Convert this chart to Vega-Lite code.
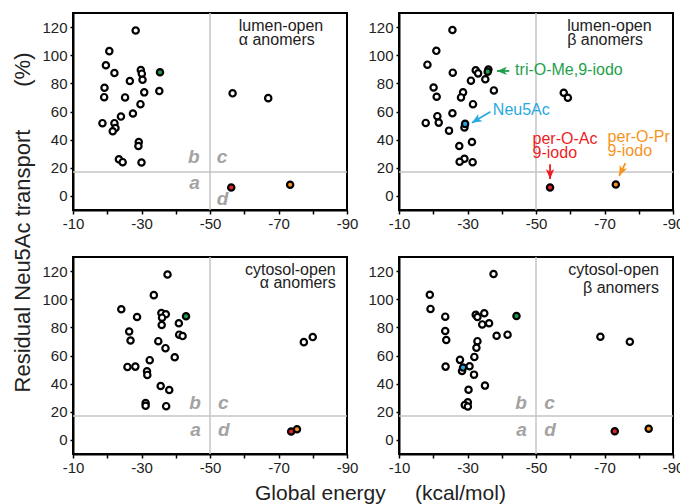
{
  "$schema": "https://vega.github.io/schema/vega-lite/v6.json",
  "padding": {"left": 10, "top": 11, "right": 0, "bottom": 0},
  "datasets": {
    "pts": [
      {"panel":1,"energy":-28.3,"transport":117.6,"compound":"other"},
      {"panel":1,"energy":-20.6,"transport":102.9,"compound":"other"},
      {"panel":1,"energy":-19.6,"transport":92.9,"compound":"other"},
      {"panel":1,"energy":-22.1,"transport":87.4,"compound":"other"},
      {"panel":1,"energy":-29.8,"transport":89.5,"compound":"other"},
      {"panel":1,"energy":-30.1,"transport":86.9,"compound":"other"},
      {"panel":1,"energy":-30.3,"transport":82.6,"compound":"other"},
      {"panel":1,"energy":-26.6,"transport":81.7,"compound":"other"},
      {"panel":1,"energy":-19.2,"transport":76.9,"compound":"other"},
      {"panel":1,"energy":-19.1,"transport":70.2,"compound":"other"},
      {"panel":1,"energy":-25.2,"transport":70.0,"compound":"other"},
      {"panel":1,"energy":-30.8,"transport":73.6,"compound":"other"},
      {"panel":1,"energy":-35.2,"transport":74.5,"compound":"other"},
      {"panel":1,"energy":-29.7,"transport":65.2,"compound":"other"},
      {"panel":1,"energy":-27.5,"transport":58.6,"compound":"other"},
      {"panel":1,"energy":-24.0,"transport":56.4,"compound":"other"},
      {"panel":1,"energy":-18.6,"transport":51.7,"compound":"other"},
      {"panel":1,"energy":-22.1,"transport":51.7,"compound":"other"},
      {"panel":1,"energy":-22.4,"transport":48.3,"compound":"other"},
      {"panel":1,"energy":-21.6,"transport":46.0,"compound":"other"},
      {"panel":1,"energy":-29.2,"transport":38.3,"compound":"other"},
      {"panel":1,"energy":-29.1,"transport":35.5,"compound":"other"},
      {"panel":1,"energy":-23.4,"transport":26.0,"compound":"other"},
      {"panel":1,"energy":-24.5,"transport":24.0,"compound":"other"},
      {"panel":1,"energy":-30.0,"transport":23.8,"compound":"other"},
      {"panel":1,"energy":-56.6,"transport":72.9,"compound":"other"},
      {"panel":1,"energy":-67.0,"transport":69.5,"compound":"other"},
      {"panel":1,"energy":-35.4,"transport":87.9,"compound":"tri-O-Me,9-iodo"},
      {"panel":1,"energy":-56.2,"transport":6.0,"compound":"per-O-Ac 9-iodo"},
      {"panel":1,"energy":-73.4,"transport":7.9,"compound":"per-O-Pr 9-iodo"},

      {"panel":2,"energy":-25.6,"transport":117.9,"compound":"other"},
      {"panel":2,"energy":-20.9,"transport":103.1,"compound":"other"},
      {"panel":2,"energy":-18.3,"transport":93.3,"compound":"other"},
      {"panel":2,"energy":-25.7,"transport":87.6,"compound":"other"},
      {"panel":2,"energy":-32.4,"transport":89.3,"compound":"other"},
      {"panel":2,"energy":-33.1,"transport":87.1,"compound":"other"},
      {"panel":2,"energy":-36.1,"transport":89.8,"compound":"other"},
      {"panel":2,"energy":-35.2,"transport":82.9,"compound":"other"},
      {"panel":2,"energy":-31.0,"transport":81.9,"compound":"other"},
      {"panel":2,"energy":-37.7,"transport":75.0,"compound":"other"},
      {"panel":2,"energy":-20.1,"transport":77.1,"compound":"other"},
      {"panel":2,"energy":-21.0,"transport":70.5,"compound":"other"},
      {"panel":2,"energy":-28.7,"transport":73.6,"compound":"other"},
      {"panel":2,"energy":-28.1,"transport":70.0,"compound":"other"},
      {"panel":2,"energy":-31.6,"transport":65.2,"compound":"other"},
      {"panel":2,"energy":-25.6,"transport":58.8,"compound":"other"},
      {"panel":2,"energy":-21.2,"transport":56.7,"compound":"other"},
      {"panel":2,"energy":-17.8,"transport":51.9,"compound":"other"},
      {"panel":2,"energy":-21.6,"transport":52.1,"compound":"other"},
      {"panel":2,"energy":-29.1,"transport":48.6,"compound":"other"},
      {"panel":2,"energy":-24.6,"transport":46.4,"compound":"other"},
      {"panel":2,"energy":-27.6,"transport":35.5,"compound":"other"},
      {"panel":2,"energy":-31.3,"transport":38.3,"compound":"other"},
      {"panel":2,"energy":-29.1,"transport":26.4,"compound":"other"},
      {"panel":2,"energy":-27.7,"transport":24.3,"compound":"other"},
      {"panel":2,"energy":-31.5,"transport":24.0,"compound":"other"},
      {"panel":2,"energy":-58.1,"transport":73.3,"compound":"other"},
      {"panel":2,"energy":-59.3,"transport":69.8,"compound":"other"},
      {"panel":2,"energy":-35.9,"transport":88.3,"compound":"tri-O-Me,9-iodo"},
      {"panel":2,"energy":-29.3,"transport":51.2,"compound":"Neu5Ac"},
      {"panel":2,"energy":-54.1,"transport":6.0,"compound":"per-O-Ac 9-iodo"},
      {"panel":2,"energy":-73.3,"transport":8.1,"compound":"per-O-Pr 9-iodo"},

      {"panel":3,"energy":-37.6,"transport":117.6,"compound":"other"},
      {"panel":3,"energy":-33.6,"transport":102.9,"compound":"other"},
      {"panel":3,"energy":-24.1,"transport":92.9,"compound":"other"},
      {"panel":3,"energy":-28.7,"transport":87.4,"compound":"other"},
      {"panel":3,"energy":-35.8,"transport":90.2,"compound":"other"},
      {"panel":3,"energy":-37.1,"transport":89.3,"compound":"other"},
      {"panel":3,"energy":-36.0,"transport":86.9,"compound":"other"},
      {"panel":3,"energy":-40.9,"transport":82.9,"compound":"other"},
      {"panel":3,"energy":-35.9,"transport":81.7,"compound":"other"},
      {"panel":3,"energy":-26.4,"transport":77.1,"compound":"other"},
      {"panel":3,"energy":-26.8,"transport":70.7,"compound":"other"},
      {"panel":3,"energy":-41.0,"transport":74.8,"compound":"other"},
      {"panel":3,"energy":-42.0,"transport":73.8,"compound":"other"},
      {"panel":3,"energy":-34.9,"transport":70.2,"compound":"other"},
      {"panel":3,"energy":-37.0,"transport":65.2,"compound":"other"},
      {"panel":3,"energy":-39.7,"transport":58.8,"compound":"other"},
      {"panel":3,"energy":-32.4,"transport":56.7,"compound":"other"},
      {"panel":3,"energy":-25.9,"transport":51.9,"compound":"other"},
      {"panel":3,"energy":-28.2,"transport":52.1,"compound":"other"},
      {"panel":3,"energy":-31.6,"transport":48.8,"compound":"other"},
      {"panel":3,"energy":-31.7,"transport":46.2,"compound":"other"},
      {"panel":3,"energy":-35.6,"transport":38.3,"compound":"other"},
      {"panel":3,"energy":-38.1,"transport":35.5,"compound":"other"},
      {"panel":3,"energy":-31.2,"transport":26.2,"compound":"other"},
      {"panel":3,"energy":-31.2,"transport":24.3,"compound":"other"},
      {"panel":3,"energy":-37.2,"transport":24.0,"compound":"other"},
      {"panel":3,"energy":-77.4,"transport":69.5,"compound":"other"},
      {"panel":3,"energy":-80.0,"transport":73.1,"compound":"other"},
      {"panel":3,"energy":-43.0,"transport":87.9,"compound":"tri-O-Me,9-iodo"},
      {"panel":3,"energy":-73.7,"transport":6.0,"compound":"per-O-Ac 9-iodo"},
      {"panel":3,"energy":-75.4,"transport":7.6,"compound":"per-O-Pr 9-iodo"},

      {"panel":4,"energy":-37.6,"transport":117.9,"compound":"other"},
      {"panel":4,"energy":-19.0,"transport":103.1,"compound":"other"},
      {"panel":4,"energy":-19.2,"transport":93.1,"compound":"other"},
      {"panel":4,"energy":-23.5,"transport":87.6,"compound":"other"},
      {"panel":4,"energy":-23.5,"transport":77.4,"compound":"other"},
      {"panel":4,"energy":-23.8,"transport":71.0,"compound":"other"},
      {"panel":4,"energy":-23.6,"transport":52.1,"compound":"other"},
      {"panel":4,"energy":-32.4,"transport":89.0,"compound":"other"},
      {"panel":4,"energy":-32.9,"transport":87.4,"compound":"other"},
      {"panel":4,"energy":-34.9,"transport":90.0,"compound":"other"},
      {"panel":4,"energy":-34.3,"transport":82.1,"compound":"other"},
      {"panel":4,"energy":-36.3,"transport":82.9,"compound":"other"},
      {"panel":4,"energy":-38.5,"transport":74.0,"compound":"other"},
      {"panel":4,"energy":-41.7,"transport":74.8,"compound":"other"},
      {"panel":4,"energy":-32.9,"transport":70.2,"compound":"other"},
      {"panel":4,"energy":-32.6,"transport":65.5,"compound":"other"},
      {"panel":4,"energy":-32.0,"transport":59.0,"compound":"other"},
      {"panel":4,"energy":-27.8,"transport":56.9,"compound":"other"},
      {"panel":4,"energy":-30.6,"transport":52.4,"compound":"other"},
      {"panel":4,"energy":-28.4,"transport":49.0,"compound":"other"},
      {"panel":4,"energy":-31.9,"transport":46.4,"compound":"other"},
      {"panel":4,"energy":-30.3,"transport":35.7,"compound":"other"},
      {"panel":4,"energy":-35.1,"transport":38.6,"compound":"other"},
      {"panel":4,"energy":-30.1,"transport":26.7,"compound":"other"},
      {"panel":4,"energy":-29.2,"transport":24.8,"compound":"other"},
      {"panel":4,"energy":-30.1,"transport":23.8,"compound":"other"},
      {"panel":4,"energy":-68.8,"transport":73.3,"compound":"other"},
      {"panel":4,"energy":-77.4,"transport":69.8,"compound":"other"},
      {"panel":4,"energy":-44.3,"transport":88.1,"compound":"tri-O-Me,9-iodo"},
      {"panel":4,"energy":-28.7,"transport":51.4,"compound":"Neu5Ac"},
      {"panel":4,"energy":-73.0,"transport":6.2,"compound":"per-O-Ac 9-iodo"},
      {"panel":4,"energy":-82.9,"transport":7.9,"compound":"per-O-Pr 9-iodo"}
    ],
    "vref": [{"energy": -50}],
    "href": [{"transport": 17}],
    "letters": [
      {"panel":1,"letter":"a","energy":-47,"transport":5.2},
      {"panel":1,"letter":"b","energy":-47,"transport":23.6},
      {"panel":1,"letter":"c","energy":-52,"transport":23.6},
      {"panel":1,"letter":"d","energy":-52,"transport":-6.2},
      {"panel":3,"letter":"a","energy":-47.3,"transport":2.9},
      {"panel":3,"letter":"b","energy":-47.3,"transport":21.9},
      {"panel":3,"letter":"c","energy":-52.3,"transport":21.9},
      {"panel":3,"letter":"d","energy":-52.3,"transport":2.9},
      {"panel":4,"letter":"a","energy":-47.3,"transport":3.1},
      {"panel":4,"letter":"b","energy":-47.3,"transport":22.1},
      {"panel":4,"letter":"c","energy":-52.4,"transport":22.1},
      {"panel":4,"letter":"d","energy":-52.4,"transport":3.1}
    ],
    "labels": [
      {"panel":1,"line":"lumen-open","energy":-58.4,"transport":121},
      {"panel":1,"line":"α anomers","energy":-58.4,"transport":111},
      {"panel":2,"line":"lumen-open","energy":-59.1,"transport":120.7},
      {"panel":2,"line":"β anomers","energy":-59.1,"transport":110.7},
      {"panel":3,"line":"cytosol-open","energy":-86.7,"transport":121},
      {"panel":3,"line":"α anomers","energy":-86.7,"transport":111.4},
      {"panel":4,"line":"cytosol-open","energy":-85.9,"transport":121},
      {"panel":4,"line":"β anomers","energy":-85.9,"transport":108.2}
    ],
    "notes": [
      {"line":"tri-O-Me,9-iodo","compound":"tri-O-Me,9-iodo","energy":-43.9,"transport":89.8},
      {"line":"Neu5Ac","compound":"Neu5Ac","energy":-37.4,"transport":61.2},
      {"line":"per-O-Ac","compound":"per-O-Ac 9-iodo","energy":-49.0,"transport":40.5},
      {"line":"9-iodo","compound":"per-O-Ac 9-iodo","energy":-49.0,"transport":30.2},
      {"line":"per-O-Pr","compound":"per-O-Pr 9-iodo","energy":-70.9,"transport":41.7},
      {"line":"9-iodo","compound":"per-O-Pr 9-iodo","energy":-70.9,"transport":31.7}
    ],
    "arrows": [
      {"compound":"tri-O-Me,9-iodo","energy":-42.2,"transport":88.8,"energy2":-38.6,"transport2":88.8},
      {"compound":"Neu5Ac","energy":-36.7,"transport":59.8,"energy2":-31.3,"transport2":52.0},
      {"compound":"per-O-Ac 9-iodo","energy":-54.1,"transport":22.6,"energy2":-54.1,"transport2":12.0},
      {"compound":"per-O-Pr 9-iodo","energy":-76.1,"transport":23.3,"energy2":-74.3,"transport2":14.3}
    ]
  },
  "columns": 2,
  "spacing": {"row": 47, "column": 52},
  "bounds": "flush",
  "concat": [
    {
      "width": 274, "height": 197,
      "layer": [
        {"data": {"name": "vref"}, "mark": {"type": "rule", "color": "#c4c4c4", "strokeWidth": 1.5},
         "encoding": {"x": {"field": "energy", "type": "quantitative", "scale": {"domain": [-90, -10], "reverse": true, "nice": false, "zero": false}, "axis": {"values": [-10,-20,-30,-40,-50,-60,-70,-80,-90], "labelOverlap": false, "labelExpr": "datum.value % 20 == 0 ? '' : '' + datum.value", "title": null}}}},
        {"data": {"name": "href"}, "mark": {"type": "rule", "color": "#c4c4c4", "strokeWidth": 1.5},
         "encoding": {"y": {"field": "transport", "type": "quantitative", "scale": {"domain": [-10, 130], "nice": false, "zero": false}, "axis": {"values": [0,20,40,60,80,100,120], "labelOverlap": false, "title": "Residual Neu5Ac transport\u00a0\u00a0\u00a0\u00a0\u00a0\u00a0\u00a0(%)", "titleX": -43.5, "titleY": 209, "titleAngle": -90, "titleAlign": "center", "titleBaseline": "alphabetic", "titleFontSize": 22}}}},
        {"data": {"name": "pts"}, "transform": [{"filter": "datum.panel == 1"}],
         "mark": {"type": "point", "shape": "circle", "filled": true, "size": 40, "stroke": "black", "strokeWidth": 2.2, "opacity": 1},
         "encoding": {
           "x": {"field": "energy", "type": "quantitative", "axis": {"values": [-10,-20,-30,-40,-50,-60,-70,-80,-90], "labelOverlap": false, "labelExpr": "datum.value % 20 == 0 ? '' : '' + datum.value", "title": null}},
           "y": {"field": "transport", "type": "quantitative", "axis": {"values": [0,20,40,60,80,100,120], "labelOverlap": false, "title": "Residual Neu5Ac transport\u00a0\u00a0\u00a0\u00a0\u00a0\u00a0\u00a0(%)", "titleX": -43.5, "titleY": 209, "titleAngle": -90, "titleAlign": "center", "titleBaseline": "alphabetic", "titleFontSize": 22}},
           "fill": {"field": "compound", "type": "nominal", "legend": null,
                    "scale": {"domain": ["other","tri-O-Me,9-iodo","Neu5Ac","per-O-Ac 9-iodo","per-O-Pr 9-iodo"], "range": ["#ffffff","#1e9e4a","#29a9e1","#e8202a","#f7941d"]}}
         }},
        {"data": {"name": "letters"}, "transform": [{"filter": "datum.panel == 1 && (datum.letter == 'a' || datum.letter == 'b')"}],
         "mark": {"type": "text", "align": "right", "baseline": "alphabetic", "fontSize": 19, "fontWeight": "bold", "fontStyle": "italic", "color": "#a3a3a3"},
         "encoding": {
           "x": {"field": "energy", "type": "quantitative", "axis": {"values": [-10,-20,-30,-40,-50,-60,-70,-80,-90], "labelOverlap": false, "labelExpr": "datum.value % 20 == 0 ? '' : '' + datum.value", "title": null}},
           "y": {"field": "transport", "type": "quantitative", "axis": {"values": [0,20,40,60,80,100,120], "labelOverlap": false, "title": "Residual Neu5Ac transport\u00a0\u00a0\u00a0\u00a0\u00a0\u00a0\u00a0(%)", "titleX": -43.5, "titleY": 209, "titleAngle": -90, "titleAlign": "center", "titleBaseline": "alphabetic", "titleFontSize": 22}},
           "text": {"field": "letter"}}},
        {"data": {"name": "letters"}, "transform": [{"filter": "datum.panel == 1 && (datum.letter == 'c' || datum.letter == 'd')"}],
         "mark": {"type": "text", "align": "left", "baseline": "alphabetic", "fontSize": 19, "fontWeight": "bold", "fontStyle": "italic", "color": "#a3a3a3"},
         "encoding": {
           "x": {"field": "energy", "type": "quantitative", "axis": {"values": [-10,-20,-30,-40,-50,-60,-70,-80,-90], "labelOverlap": false, "labelExpr": "datum.value % 20 == 0 ? '' : '' + datum.value", "title": null}},
           "y": {"field": "transport", "type": "quantitative", "axis": {"values": [0,20,40,60,80,100,120], "labelOverlap": false, "title": "Residual Neu5Ac transport\u00a0\u00a0\u00a0\u00a0\u00a0\u00a0\u00a0(%)", "titleX": -43.5, "titleY": 209, "titleAngle": -90, "titleAlign": "center", "titleBaseline": "alphabetic", "titleFontSize": 22}},
           "text": {"field": "letter"}}},
        {"data": {"name": "labels"}, "transform": [{"filter": "datum.panel == 1"}],
         "mark": {"type": "text", "align": "left", "baseline": "middle", "fontSize": 16, "color": "#222222"},
         "encoding": {
           "x": {"field": "energy", "type": "quantitative", "axis": {"values": [-10,-20,-30,-40,-50,-60,-70,-80,-90], "labelOverlap": false, "labelExpr": "datum.value % 20 == 0 ? '' : '' + datum.value", "title": null}},
           "y": {"field": "transport", "type": "quantitative", "axis": {"values": [0,20,40,60,80,100,120], "labelOverlap": false, "title": "Residual Neu5Ac transport\u00a0\u00a0\u00a0\u00a0\u00a0\u00a0\u00a0(%)", "titleX": -43.5, "titleY": 209, "titleAngle": -90, "titleAlign": "center", "titleBaseline": "alphabetic", "titleFontSize": 22}},
           "text": {"field": "line"}}}
      ]
    },
    {
      "width": 274, "height": 197,
      "layer": [
        {"data": {"name": "vref"}, "mark": {"type": "rule", "color": "#c4c4c4", "strokeWidth": 1.5},
         "encoding": {"x": {"field": "energy", "type": "quantitative", "scale": {"domain": [-90, -10], "reverse": true, "nice": false, "zero": false}, "axis": {"values": [-10,-20,-30,-40,-50,-60,-70,-80,-90], "labelOverlap": false, "labelExpr": "datum.value % 20 == 0 ? '' : '' + datum.value", "title": null}}}},
        {"data": {"name": "href"}, "mark": {"type": "rule", "color": "#c4c4c4", "strokeWidth": 1.5},
         "encoding": {"y": {"field": "transport", "type": "quantitative", "scale": {"domain": [-10, 130], "nice": false, "zero": false}, "axis": {"values": [0,20,40,60,80,100,120], "labelOverlap": false, "title": null}}}},
        {"data": {"name": "pts"}, "transform": [{"filter": "datum.panel == 2"}],
         "mark": {"type": "point", "shape": "circle", "filled": true, "size": 40, "stroke": "black", "strokeWidth": 2.2, "opacity": 1},
         "encoding": {
           "x": {"field": "energy", "type": "quantitative", "axis": {"values": [-10,-20,-30,-40,-50,-60,-70,-80,-90], "labelOverlap": false, "labelExpr": "datum.value % 20 == 0 ? '' : '' + datum.value", "title": null}},
           "y": {"field": "transport", "type": "quantitative", "axis": {"values": [0,20,40,60,80,100,120], "labelOverlap": false, "title": null}},
           "fill": {"field": "compound", "type": "nominal", "legend": null,
                    "scale": {"domain": ["other","tri-O-Me,9-iodo","Neu5Ac","per-O-Ac 9-iodo","per-O-Pr 9-iodo"], "range": ["#ffffff","#1e9e4a","#29a9e1","#e8202a","#f7941d"]}}
         }},
        {"data": {"name": "labels"}, "transform": [{"filter": "datum.panel == 2"}],
         "mark": {"type": "text", "align": "left", "baseline": "middle", "fontSize": 16, "color": "#222222"},
         "encoding": {
           "x": {"field": "energy", "type": "quantitative", "axis": {"values": [-10,-20,-30,-40,-50,-60,-70,-80,-90], "labelOverlap": false, "labelExpr": "datum.value % 20 == 0 ? '' : '' + datum.value", "title": null}},
           "y": {"field": "transport", "type": "quantitative", "axis": {"values": [0,20,40,60,80,100,120], "labelOverlap": false, "title": null}},
           "text": {"field": "line"}}},
        {"data": {"name": "notes"},
         "mark": {"type": "text", "align": "left", "baseline": "middle", "fontSize": 16},
         "encoding": {
           "x": {"field": "energy", "type": "quantitative", "axis": {"values": [-10,-20,-30,-40,-50,-60,-70,-80,-90], "labelOverlap": false, "labelExpr": "datum.value % 20 == 0 ? '' : '' + datum.value", "title": null}},
           "y": {"field": "transport", "type": "quantitative", "axis": {"values": [0,20,40,60,80,100,120], "labelOverlap": false, "title": null}},
           "text": {"field": "line"},
           "color": {"field": "compound", "type": "nominal", "legend": null,
                     "scale": {"domain": ["tri-O-Me,9-iodo","Neu5Ac","per-O-Ac 9-iodo","per-O-Pr 9-iodo"], "range": ["#1f9f4b","#29a9e1","#ec1c24","#f7941d"]}}}},
        {"data": {"name": "arrows"},
         "mark": {"type": "rule", "strokeWidth": 1.8},
         "encoding": {
           "x": {"field": "energy", "type": "quantitative", "axis": {"values": [-10,-20,-30,-40,-50,-60,-70,-80,-90], "labelOverlap": false, "labelExpr": "datum.value % 20 == 0 ? '' : '' + datum.value", "title": null}},
           "y": {"field": "transport", "type": "quantitative", "axis": {"values": [0,20,40,60,80,100,120], "labelOverlap": false, "title": null}},
           "x2": {"field": "energy2"}, "y2": {"field": "transport2"},
           "color": {"field": "compound", "type": "nominal", "legend": null}}},
        {"data": {"name": "arrows"}, "transform": [{"filter": "datum.compound == 'tri-O-Me,9-iodo'"}],
         "mark": {"type": "point", "shape": "M0,0L0.75,1.8L0,1.35L-0.75,1.8Z", "filled": true, "size": 121, "angle": 270, "opacity": 1, "strokeWidth": 0},
         "encoding": {
           "x": {"field": "energy2", "type": "quantitative", "axis": {"values": [-10,-20,-30,-40,-50,-60,-70,-80,-90], "labelOverlap": false, "labelExpr": "datum.value % 20 == 0 ? '' : '' + datum.value", "title": null}},
           "y": {"field": "transport2", "type": "quantitative", "axis": {"values": [0,20,40,60,80,100,120], "labelOverlap": false, "title": null}},
           "color": {"field": "compound", "type": "nominal", "legend": null}}},
        {"data": {"name": "arrows"}, "transform": [{"filter": "datum.compound == 'Neu5Ac'"}],
         "mark": {"type": "point", "shape": "M0,0L0.75,1.8L0,1.35L-0.75,1.8Z", "filled": true, "size": 121, "angle": 239, "opacity": 1, "strokeWidth": 0},
         "encoding": {
           "x": {"field": "energy2", "type": "quantitative", "axis": {"values": [-10,-20,-30,-40,-50,-60,-70,-80,-90], "labelOverlap": false, "labelExpr": "datum.value % 20 == 0 ? '' : '' + datum.value", "title": null}},
           "y": {"field": "transport2", "type": "quantitative", "axis": {"values": [0,20,40,60,80,100,120], "labelOverlap": false, "title": null}},
           "color": {"field": "compound", "type": "nominal", "legend": null}}},
        {"data": {"name": "arrows"}, "transform": [{"filter": "datum.compound == 'per-O-Ac 9-iodo'"}],
         "mark": {"type": "point", "shape": "M0,0L0.75,1.8L0,1.35L-0.75,1.8Z", "filled": true, "size": 121, "angle": 180, "opacity": 1, "strokeWidth": 0},
         "encoding": {
           "x": {"field": "energy2", "type": "quantitative", "axis": {"values": [-10,-20,-30,-40,-50,-60,-70,-80,-90], "labelOverlap": false, "labelExpr": "datum.value % 20 == 0 ? '' : '' + datum.value", "title": null}},
           "y": {"field": "transport2", "type": "quantitative", "axis": {"values": [0,20,40,60,80,100,120], "labelOverlap": false, "title": null}},
           "color": {"field": "compound", "type": "nominal", "legend": null}}},
        {"data": {"name": "arrows"}, "transform": [{"filter": "datum.compound == 'per-O-Pr 9-iodo'"}],
         "mark": {"type": "point", "shape": "M0,0L0.75,1.8L0,1.35L-0.75,1.8Z", "filled": true, "size": 121, "angle": 205, "opacity": 1, "strokeWidth": 0},
         "encoding": {
           "x": {"field": "energy2", "type": "quantitative", "axis": {"values": [-10,-20,-30,-40,-50,-60,-70,-80,-90], "labelOverlap": false, "labelExpr": "datum.value % 20 == 0 ? '' : '' + datum.value", "title": null}},
           "y": {"field": "transport2", "type": "quantitative", "axis": {"values": [0,20,40,60,80,100,120], "labelOverlap": false, "title": null}},
           "color": {"field": "compound", "type": "nominal", "legend": null}}}
      ]
    },
    {
      "width": 274, "height": 197,
      "layer": [
        {"data": {"name": "vref"}, "mark": {"type": "rule", "color": "#c4c4c4", "strokeWidth": 1.5},
         "encoding": {"x": {"field": "energy", "type": "quantitative", "scale": {"domain": [-90, -10], "reverse": true, "nice": false, "zero": false}, "axis": {"values": [-10,-20,-30,-40,-50,-60,-70,-80,-90], "labelOverlap": false, "labelExpr": "datum.value % 20 == 0 ? '' : '' + datum.value", "title": "Global energy\u00a0\u00a0\u00a0\u00a0\u00a0(kcal/mol)", "titleX": 307, "titleY": 45, "titleAlign": "center", "titleBaseline": "alphabetic"}}}},
        {"data": {"name": "href"}, "mark": {"type": "rule", "color": "#c4c4c4", "strokeWidth": 1.5},
         "encoding": {"y": {"field": "transport", "type": "quantitative", "scale": {"domain": [-10, 130], "nice": false, "zero": false}, "axis": {"values": [0,20,40,60,80,100,120], "labelOverlap": false, "title": null}}}},
        {"data": {"name": "pts"}, "transform": [{"filter": "datum.panel == 3"}],
         "mark": {"type": "point", "shape": "circle", "filled": true, "size": 40, "stroke": "black", "strokeWidth": 2.2, "opacity": 1},
         "encoding": {
           "x": {"field": "energy", "type": "quantitative", "axis": {"values": [-10,-20,-30,-40,-50,-60,-70,-80,-90], "labelOverlap": false, "labelExpr": "datum.value % 20 == 0 ? '' : '' + datum.value", "title": "Global energy\u00a0\u00a0\u00a0\u00a0\u00a0(kcal/mol)", "titleX": 307, "titleY": 45, "titleAlign": "center", "titleBaseline": "alphabetic"}},
           "y": {"field": "transport", "type": "quantitative", "axis": {"values": [0,20,40,60,80,100,120], "labelOverlap": false, "title": null}},
           "fill": {"field": "compound", "type": "nominal", "legend": null,
                    "scale": {"domain": ["other","tri-O-Me,9-iodo","Neu5Ac","per-O-Ac 9-iodo","per-O-Pr 9-iodo"], "range": ["#ffffff","#1e9e4a","#29a9e1","#e8202a","#f7941d"]}}
         }},
        {"data": {"name": "letters"}, "transform": [{"filter": "datum.panel == 3 && (datum.letter == 'a' || datum.letter == 'b')"}],
         "mark": {"type": "text", "align": "right", "baseline": "alphabetic", "fontSize": 19, "fontWeight": "bold", "fontStyle": "italic", "color": "#a3a3a3"},
         "encoding": {
           "x": {"field": "energy", "type": "quantitative", "axis": {"values": [-10,-20,-30,-40,-50,-60,-70,-80,-90], "labelOverlap": false, "labelExpr": "datum.value % 20 == 0 ? '' : '' + datum.value", "title": "Global energy\u00a0\u00a0\u00a0\u00a0\u00a0(kcal/mol)", "titleX": 307, "titleY": 45, "titleAlign": "center", "titleBaseline": "alphabetic"}},
           "y": {"field": "transport", "type": "quantitative", "axis": {"values": [0,20,40,60,80,100,120], "labelOverlap": false, "title": null}},
           "text": {"field": "letter"}}},
        {"data": {"name": "letters"}, "transform": [{"filter": "datum.panel == 3 && (datum.letter == 'c' || datum.letter == 'd')"}],
         "mark": {"type": "text", "align": "left", "baseline": "alphabetic", "fontSize": 19, "fontWeight": "bold", "fontStyle": "italic", "color": "#a3a3a3"},
         "encoding": {
           "x": {"field": "energy", "type": "quantitative", "axis": {"values": [-10,-20,-30,-40,-50,-60,-70,-80,-90], "labelOverlap": false, "labelExpr": "datum.value % 20 == 0 ? '' : '' + datum.value", "title": "Global energy\u00a0\u00a0\u00a0\u00a0\u00a0(kcal/mol)", "titleX": 307, "titleY": 45, "titleAlign": "center", "titleBaseline": "alphabetic"}},
           "y": {"field": "transport", "type": "quantitative", "axis": {"values": [0,20,40,60,80,100,120], "labelOverlap": false, "title": null}},
           "text": {"field": "letter"}}},
        {"data": {"name": "labels"}, "transform": [{"filter": "datum.panel == 3"}],
         "mark": {"type": "text", "align": "right", "baseline": "middle", "fontSize": 16, "color": "#222222"},
         "encoding": {
           "x": {"field": "energy", "type": "quantitative", "axis": {"values": [-10,-20,-30,-40,-50,-60,-70,-80,-90], "labelOverlap": false, "labelExpr": "datum.value % 20 == 0 ? '' : '' + datum.value", "title": "Global energy\u00a0\u00a0\u00a0\u00a0\u00a0(kcal/mol)", "titleX": 307, "titleY": 45, "titleAlign": "center", "titleBaseline": "alphabetic"}},
           "y": {"field": "transport", "type": "quantitative", "axis": {"values": [0,20,40,60,80,100,120], "labelOverlap": false, "title": null}},
           "text": {"field": "line"}}}
      ]
    },
    {
      "width": 274, "height": 197,
      "layer": [
        {"data": {"name": "vref"}, "mark": {"type": "rule", "color": "#c4c4c4", "strokeWidth": 1.5},
         "encoding": {"x": {"field": "energy", "type": "quantitative", "scale": {"domain": [-90, -10], "reverse": true, "nice": false, "zero": false}, "axis": {"values": [-10,-20,-30,-40,-50,-60,-70,-80,-90], "labelOverlap": false, "labelExpr": "datum.value % 20 == 0 ? '' : '' + datum.value", "title": null}}}},
        {"data": {"name": "href"}, "mark": {"type": "rule", "color": "#c4c4c4", "strokeWidth": 1.5},
         "encoding": {"y": {"field": "transport", "type": "quantitative", "scale": {"domain": [-10, 130], "nice": false, "zero": false}, "axis": {"values": [0,20,40,60,80,100,120], "labelOverlap": false, "title": null}}}},
        {"data": {"name": "pts"}, "transform": [{"filter": "datum.panel == 4"}],
         "mark": {"type": "point", "shape": "circle", "filled": true, "size": 40, "stroke": "black", "strokeWidth": 2.2, "opacity": 1},
         "encoding": {
           "x": {"field": "energy", "type": "quantitative", "axis": {"values": [-10,-20,-30,-40,-50,-60,-70,-80,-90], "labelOverlap": false, "labelExpr": "datum.value % 20 == 0 ? '' : '' + datum.value", "title": null}},
           "y": {"field": "transport", "type": "quantitative", "axis": {"values": [0,20,40,60,80,100,120], "labelOverlap": false, "title": null}},
           "fill": {"field": "compound", "type": "nominal", "legend": null,
                    "scale": {"domain": ["other","tri-O-Me,9-iodo","Neu5Ac","per-O-Ac 9-iodo","per-O-Pr 9-iodo"], "range": ["#ffffff","#1e9e4a","#29a9e1","#e8202a","#f7941d"]}}
         }},
        {"data": {"name": "letters"}, "transform": [{"filter": "datum.panel == 4 && (datum.letter == 'a' || datum.letter == 'b')"}],
         "mark": {"type": "text", "align": "right", "baseline": "alphabetic", "fontSize": 19, "fontWeight": "bold", "fontStyle": "italic", "color": "#a3a3a3"},
         "encoding": {
           "x": {"field": "energy", "type": "quantitative", "axis": {"values": [-10,-20,-30,-40,-50,-60,-70,-80,-90], "labelOverlap": false, "labelExpr": "datum.value % 20 == 0 ? '' : '' + datum.value", "title": null}},
           "y": {"field": "transport", "type": "quantitative", "axis": {"values": [0,20,40,60,80,100,120], "labelOverlap": false, "title": null}},
           "text": {"field": "letter"}}},
        {"data": {"name": "letters"}, "transform": [{"filter": "datum.panel == 4 && (datum.letter == 'c' || datum.letter == 'd')"}],
         "mark": {"type": "text", "align": "left", "baseline": "alphabetic", "fontSize": 19, "fontWeight": "bold", "fontStyle": "italic", "color": "#a3a3a3"},
         "encoding": {
           "x": {"field": "energy", "type": "quantitative", "axis": {"values": [-10,-20,-30,-40,-50,-60,-70,-80,-90], "labelOverlap": false, "labelExpr": "datum.value % 20 == 0 ? '' : '' + datum.value", "title": null}},
           "y": {"field": "transport", "type": "quantitative", "axis": {"values": [0,20,40,60,80,100,120], "labelOverlap": false, "title": null}},
           "text": {"field": "letter"}}},
        {"data": {"name": "labels"}, "transform": [{"filter": "datum.panel == 4"}],
         "mark": {"type": "text", "align": "right", "baseline": "middle", "fontSize": 16, "color": "#222222"},
         "encoding": {
           "x": {"field": "energy", "type": "quantitative", "axis": {"values": [-10,-20,-30,-40,-50,-60,-70,-80,-90], "labelOverlap": false, "labelExpr": "datum.value % 20 == 0 ? '' : '' + datum.value", "title": null}},
           "y": {"field": "transport", "type": "quantitative", "axis": {"values": [0,20,40,60,80,100,120], "labelOverlap": false, "title": null}},
           "text": {"field": "line"}}}
      ]
    }
  ],
  "config": {
    "font": "Liberation Sans",
    "view": {"stroke": "black", "strokeWidth": 2},
    "axis": {
      "grid": false, "domainColor": "black", "domainWidth": 2, "tickColor": "black", "tickWidth": 1.5,
      "labelFont": "Liberation Sans", "labelFontSize": 15, "labelColor": "#222222", "labelFlush": false, "labelOverlap": false,
      "titleFont": "Liberation Sans", "titleFontSize": 21, "titleFontWeight": "normal", "titleColor": "#222222"
    },
    "axisX": {"tickSize": 4, "labelPadding": 2},
    "axisY": {"tickSize": 3, "labelPadding": 3}
  }
}
